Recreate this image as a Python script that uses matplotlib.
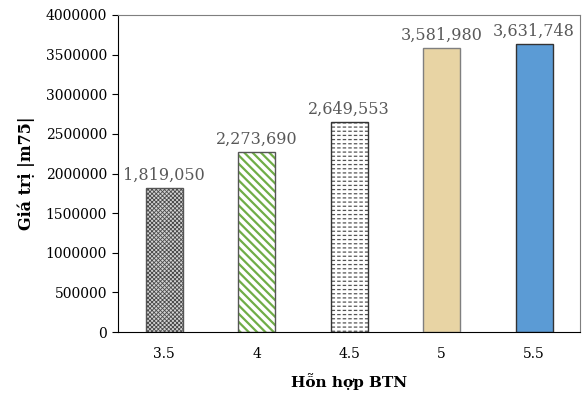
import matplotlib
matplotlib.use('Agg')
import matplotlib.pyplot as plt

# data
categories = ['3.5', '4', '4.5', '5', '5.5']
values = [1819050, 2273690, 2649553, 3581980, 3631748]
yticks = [0, 500000, 1000000, 1500000, 2000000, 2500000, 3000000, 3500000, 4000000]

plt.rcParams['font.family'] = ['DejaVu Serif']

fig = plt.figure(figsize=(5.82, 3.94), dpi=100)
ax = fig.add_axes([0.203, 0.157, 0.794, 0.805])

x = list(range(len(categories)))
w = 0.4

# bar 1: dense cross hatch
plt.rcParams['hatch.linewidth'] = 0.6
ax.bar(x[0], values[0], w, color='#d4d4d4', edgecolor='#4a4a4a', hatch='xxxxxxxx', linewidth=0, zorder=2)
# bar 2: green diagonal stripes
plt.rcParams['hatch.linewidth'] = 1.6
ax.bar(x[1], values[1], w, color='white', edgecolor='#70AD47', hatch='\\\\\\\\', linewidth=0, zorder=2)
# bar 3: dashed horizontal lines
plt.rcParams['hatch.linewidth'] = 0.9
ax.bar(x[2], values[2], w, color='white', edgecolor='#555555', hatch='----', linewidth=0, zorder=2)
plt.rcParams['hatch.linewidth'] = 1.5
ax.bar(x[2], values[2], w, color='none', edgecolor='white', hatch='|||', linewidth=0, zorder=2)
# bar 4: tan texture, bar 5: blue
ax.bar(x[3], values[3], w, color='#E8D4A4', linewidth=0, zorder=2)
ax.bar(x[4], values[4], w, color='#5B9BD5', linewidth=0, zorder=2)

# outlines
edges = ['#555555', '#555555', '#333333', '#7F7F7F', '#333333']
for i in x:
    ax.bar(x[i], values[i], w, color='none', edgecolor=edges[i], linewidth=1.0, zorder=3)

for i in x:
    ax.text(x[i], values[i] + 50000, f'{values[i]:,}', ha='center', va='bottom',
            fontsize=11.5, color='#595959')

ax.set_xlim(-0.5, 4.5)
ax.set_ylim(0, 4000000)
ax.set_yticks(yticks)
ax.set_yticklabels([str(v) for v in yticks], fontsize=10)
ax.set_xticks(x)
ax.set_xticklabels(categories, fontsize=10)
ax.tick_params(axis='x', length=0, pad=11)
ax.tick_params(axis='y', length=4, direction='out', pad=4)

for s in ['top', 'right']:
    ax.spines[s].set_color('#7F7F7F')
ax.spines['left'].set_color('black')
ax.spines['bottom'].set_color('black')

ax.set_xlabel('Hỗn hợp BTN', fontsize=11, fontweight='bold', labelpad=8)
ax.set_ylabel('Giá trị |m75|', fontsize=11.5, fontweight='bold', labelpad=8)

fig.savefig('out.png', dpi=100)
